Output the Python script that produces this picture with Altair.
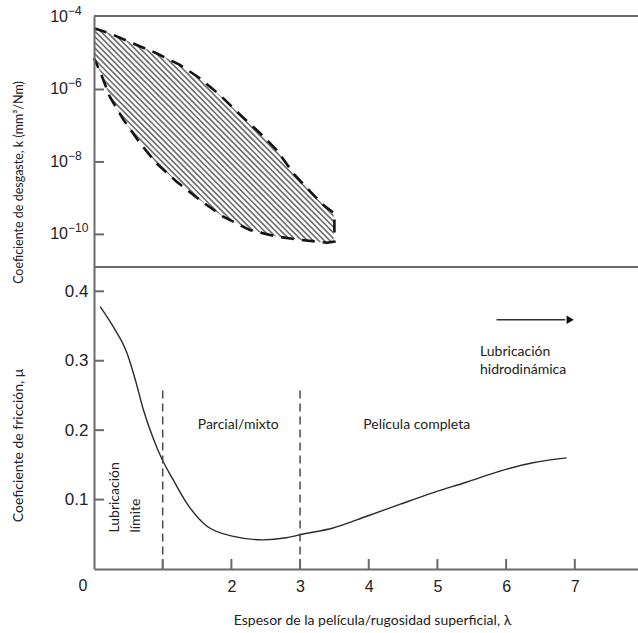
import altair as alt
import pandas as pd

# ---------------- data ----------------
# Friction curve (bottom panel)
lam = [0.09, 0.28, 0.48, 0.60, 0.72, 0.87, 0.99, 1.15, 1.35, 1.64, 2.03, 2.46,
       2.80, 3.03, 3.48, 3.97, 4.45, 4.94, 5.42, 5.91, 6.39, 6.88]
mu = [0.378, 0.349, 0.311, 0.273, 0.229, 0.186, 0.158, 0.129, 0.095, 0.062, 0.047, 0.042,
      0.045, 0.050, 0.059, 0.076, 0.093, 0.110, 0.125, 0.141, 0.153, 0.160]

# Wear-coefficient band (top panel): exponents of k (mm3/Nm)
up_lam = [0.0, 0.23, 0.57, 0.91, 1.25, 1.54, 1.83, 2.13, 2.42, 2.66, 2.90, 3.15, 3.34, 3.50]
up_exp = [-4.31, -4.45, -4.73, -5.00, -5.32, -5.69, -6.15, -6.70, -7.21, -7.67, -8.31, -8.82, -9.19, -9.42]
lo_lam = [0.0, 0.09, 0.23, 0.43, 0.67, 0.91, 1.20, 1.54, 1.88, 2.27, 2.66, 3.00, 3.39, 3.50]
lo_exp = [-5.14, -5.51, -6.20, -6.84, -7.48, -8.04, -8.54, -9.05, -9.51, -9.88, -10.06, -10.15, -10.23, -10.20]

# Axes
x_ticks = [0, 1, 2, 3, 4, 5, 6, 7]
mu_ticks = [0.1, 0.2, 0.3, 0.4]
k_ticks = [1e-4, 1e-6, 1e-8, 1e-10]
k_base = ["10", "10", "10", "10"]
k_sup = ["\u22124", "\u22126", "\u22128", "\u221210"]

# Regime boundaries
bound_lam = [1, 3]
bound_top = [0.257, 0.257]

# Annotations
ann_text = ["Parcial/mixto", "Película completa", "Lubricación", "hidrodinámica"]
ann_x = [1.51, 3.92, 5.62, 5.62]
ann_y = [0.207, 0.207, 0.313, 0.287]
rot_text = ["Lubricación", "límite"]
rot_x = [0.305, 0.61]
rot_y = [0.0525, 0.0525]
arrow_x = [5.86, 6.86]
arrow_y = [0.359, 0.359]

# ---------------- layout constants ----------------
W, H = 544, 553
TOP_H = 251
K_MIN, K_MAX = 10 ** -10.9, 10 ** -3.972
MU_MAX = 0.435
AXC = "#6a6a6a"
TXT = "#222222"
LBL_FONT = "Liberation Sans"
TXT_FONT = "Lato"
HATCH = "#727272"

# extent of the diagonal hatch texture (a wide dashed stroke, masked to the band)
hatch_lam, hatch_lam2 = [-0.05], [3.65]
hatch_k, hatch_k2 = [K_MIN], [K_MAX]

xscale = alt.Scale(domain=[0, 7.92], nice=False)
xaxis = alt.Axis(
    values=x_ticks, title="Espesor de la película/rugosidad superficial, λ",
    labelExpr="datum.value == 0 || datum.value == 1 ? '' : datum.label",
    labelFont=LBL_FONT, labelFontSize=16, labelColor=TXT, labelPadding=9,
    ticks=False, grid=False, domainColor=AXC, domainWidth=2,
    titleFont=TXT_FONT, titleFontSize=14, titleFontWeight="normal", titleColor=TXT,
    titleY=51, titleX=278, titleBaseline="middle", zindex=1,
)


def X(field):
    return alt.X(field, type="quantitative", scale=xscale, axis=xaxis)


kscale = alt.Scale(type="log", domain=[K_MIN, K_MAX], range=[TOP_H, 0], nice=False)
muscale = alt.Scale(domain=[0, MU_MAX], range=[H, TOP_H], nice=False)

kaxis = alt.Axis(
    title="Coeficiente de desgaste, k (mm³/Nm)", labels=False, ticks=False, grid=False,
    domainColor=AXC, domainWidth=2, titleFont=TXT_FONT, titleFontSize=12.5,
    titleFontWeight="normal", titleColor=TXT, titleX=-76, titleY=166,
    titleBaseline="middle", titleAlign="center", titleAngle=270, zindex=1,
)


def K(field="k"):
    return alt.Y(field, type="quantitative", scale=kscale, axis=kaxis)


# ---------------- top panel ----------------
up_df = pd.DataFrame({"lam": up_lam, "k": [10 ** e for e in up_exp], "edge": K_MAX})
lo_df = pd.DataFrame({"lam": lo_lam, "k": [10 ** e for e in lo_exp], "edge": K_MIN})
outline_df = pd.DataFrame({
    "lam": up_lam + lo_lam[::-1],
    "k": [10 ** e for e in up_exp] + [10 ** e for e in lo_exp[::-1]],
    "ord": list(range(len(up_lam) + len(lo_lam))),
})
ktick_df = pd.DataFrame({"k": k_ticks, "base": k_base, "sup": k_sup})
hatch_df = pd.DataFrame({"lam": hatch_lam, "lam2": hatch_lam2, "k": hatch_k, "k2": hatch_k2})
right_df = pd.DataFrame({"lam": [up_lam[-1]]})

stripes = alt.Chart(hatch_df).mark_rule(
    color=HATCH, strokeWidth=360, strokeDash=[1.7, 2.3], strokeCap="butt", clip=True
).encode(x=X("lam"), x2="lam2:Q", y=K(), y2="k2:Q")
mask_above = alt.Chart(up_df).mark_area(color="#ffffff", opacity=1).encode(
    x=X("lam"), y=K(), y2="edge:Q"
)
mask_below = alt.Chart(lo_df).mark_area(color="#ffffff", opacity=1).encode(
    x=X("lam"), y=K(), y2="edge:Q"
)
mask_right = alt.Chart(right_df).mark_rect(
    fill="#ffffff", stroke="#ffffff", strokeWidth=1.5
).encode(x=X("lam"), x2=alt.value(W + 2), y=alt.value(-1), y2=alt.value(H))
mask_bottom = alt.Chart(right_df).mark_rect(fill="#ffffff", strokeWidth=0).encode(
    x=alt.value(0), x2=alt.value(W), y=alt.value(TOP_H), y2=alt.value(H)
)
outline = alt.Chart(outline_df).mark_line(
    color="#141414", strokeWidth=2.6, strokeDash=[13, 8]
).encode(x=X("lam"), y=K(), order="ord:Q")
top_line = alt.Chart(ktick_df).mark_rule(color=AXC, strokeWidth=2).encode(
    y=alt.value(0)
)
k_tickmarks = alt.Chart(ktick_df).transform_filter("datum.k < 5e-5").mark_rule(
    color=AXC, strokeWidth=2
).encode(y=K(), x=alt.value(0), x2=alt.value(10))
k_base_txt = alt.Chart(ktick_df).mark_text(
    align="right", baseline="middle", font=LBL_FONT, fontSize=16, color=TXT
).encode(y=K(), x=alt.value(-26), text="base:N")
k_sup_txt = alt.Chart(ktick_df).mark_text(
    align="left", baseline="middle", font=LBL_FONT, fontSize=12, color=TXT, dy=-6
).encode(y=K(), x=alt.value(-26), text="sup:N")

top = alt.layer(stripes, mask_above, mask_below, mask_right, mask_bottom, outline,
                top_line, k_tickmarks, k_base_txt, k_sup_txt)

# ---------------- bottom panel ----------------
mu_df = pd.DataFrame({"lam": lam, "mu": mu})
bound_df = pd.DataFrame({"lam": bound_lam, "top": bound_top})
ann_df = pd.DataFrame({"text": ann_text, "lam": ann_x, "mu": ann_y})
rot_df = pd.DataFrame({"text": rot_text, "lam": rot_x, "mu": rot_y})
arrow_df = pd.DataFrame({"lam": arrow_x, "mu": arrow_y})
mutick_df = pd.DataFrame({"mu": mu_ticks})
xtick_df = pd.DataFrame({"lam": x_ticks[1:]})
zero_df = pd.DataFrame({"lam": [0], "mu": [0], "text": ["0"]})

muaxis = alt.Axis(
    title="Coeficiente de fricción, μ", values=mu_ticks, format=".1f", ticks=False,
    grid=False, labelFont=LBL_FONT, labelFontSize=17, labelColor=TXT, labelPadding=6,
    domainColor=AXC, domainWidth=2, titleFont=TXT_FONT, titleFontSize=14,
    titleFontWeight="normal", titleColor=TXT, titleX=-76, titleY=429,
    titleBaseline="middle", titleAlign="center", titleAngle=270, orient="left", zindex=1,
)


def MU(field="mu"):
    return alt.Y(field, type="quantitative", scale=muscale, axis=muaxis)


curve = alt.Chart(mu_df).mark_line(
    color="#2a2a2a", strokeWidth=1.4, interpolate="monotone"
).encode(x=X("lam"), y=MU())
bounds = alt.Chart(bound_df).mark_rule(
    color="#4a4a4a", strokeWidth=1.5, strokeDash=[8, 5]
).encode(x=X("lam"), y=MU("top"), y2=alt.value(H))
mid_line = alt.Chart(mutick_df).mark_rule(color=AXC, strokeWidth=2).encode(
    y=alt.value(TOP_H)
)
mu_tickmarks = alt.Chart(mutick_df).mark_rule(color=AXC, strokeWidth=2).encode(
    y=MU(), x=alt.value(0), x2=alt.value(10)
)
x_tickmarks = alt.Chart(xtick_df).mark_rule(color=AXC, strokeWidth=2).encode(
    x=X("lam"), y=alt.value(H), y2=alt.value(H - 10)
)
zero_lbl = alt.Chart(zero_df).mark_text(
    align="center", baseline="top", font=LBL_FONT, fontSize=16, color=TXT, dx=-11, dy=9
).encode(x=X("lam"), y=MU(), text="text:N")
ann = alt.Chart(ann_df).mark_text(
    align="left", baseline="middle", font=TXT_FONT, fontSize=14, color=TXT
).encode(x=X("lam"), y=MU(), text="text:N")
rot = alt.Chart(rot_df).mark_text(
    align="left", baseline="middle", font=TXT_FONT, fontSize=14, color=TXT, angle=270
).encode(x=X("lam"), y=MU(), text="text:N")
arrow_line = alt.Chart(arrow_df).mark_line(color="#333333", strokeWidth=1.5).encode(
    x=X("lam"), y=MU()
)
arrow_head = alt.Chart(arrow_df).transform_filter("datum.lam > 6").mark_point(
    shape="triangle-right", filled=True, size=70, color="#111111", opacity=1, xOffset=5
).encode(x=X("lam"), y=MU())

bottom = alt.layer(curve, bounds, mid_line, mu_tickmarks, x_tickmarks, zero_lbl, ann,
                   rot, arrow_line, arrow_head)

chart = alt.layer(top, bottom).resolve_scale(y="independent").properties(
    width=W, height=H,
    autosize=alt.AutoSizeParams(type="none"),
    padding={"left": 94, "top": 16, "right": 0, "bottom": 64},
    background="white",
).configure_view(stroke=None).configure_axis(grid=False)

chart.save("out.html", embed_options={"renderer": "svg", "actions": False})
